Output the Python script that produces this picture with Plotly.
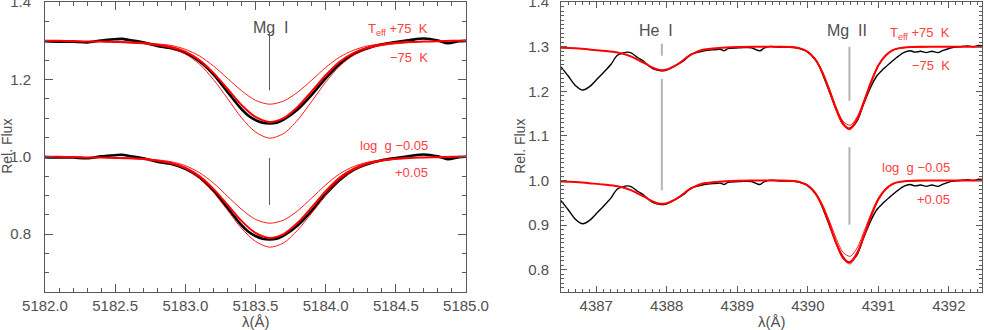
import plotly.graph_objects as go

# ---- left panel: Mg I 5183.6 ----
MGI_WAVE = [5182.0, 5182.1, 5182.2, 5182.3, 5182.4, 5182.5, 5182.6, 5182.7, 5182.8, 5182.9,
            5183.0, 5183.1, 5183.2, 5183.3, 5183.4, 5183.5, 5183.6, 5183.7, 5183.8, 5183.9,
            5184.0, 5184.1, 5184.2, 5184.3, 5184.4, 5184.5, 5184.6, 5184.7, 5184.8, 5184.9, 5185.0]
MGI_BEST = [1.000, 1.000, 0.999, 0.998, 0.998, 0.997, 0.996, 0.994, 0.990, 0.984,
            0.972, 0.950, 0.917, 0.876, 0.834, 0.803, 0.790, 0.800, 0.829, 0.869,
            0.911, 0.946, 0.969, 0.983, 0.990, 0.995, 0.997, 0.998, 0.999, 1.000, 1.000]

MGI_VAR_WAVE = [5182.4, 5182.6, 5182.7, 5182.8, 5182.9, 5183.0, 5183.1, 5183.2, 5183.3, 5183.4,
                5183.5, 5183.6, 5183.7, 5183.8, 5183.9, 5184.0, 5184.1, 5184.2, 5184.3, 5184.4, 5184.6]
MGI_TEFF_PLUS = [0.998, 0.997, 0.995, 0.992, 0.988, 0.978, 0.961, 0.935, 0.903, 0.871,
                 0.846, 0.836, 0.844, 0.867, 0.898, 0.931, 0.958, 0.976, 0.987, 0.992, 0.998]
MGI_TEFF_MINUS = [0.998, 0.995, 0.993, 0.988, 0.981, 0.966, 0.940, 0.900, 0.851, 0.801,
                  0.764, 0.748, 0.760, 0.795, 0.843, 0.893, 0.935, 0.963, 0.980, 0.988, 0.996]
MGI_LOGG_MINUS = [0.998, 0.997, 0.995, 0.992, 0.987, 0.977, 0.959, 0.932, 0.898, 0.864,
                  0.838, 0.828, 0.836, 0.860, 0.893, 0.927, 0.956, 0.975, 0.986, 0.992, 0.998]
MGI_LOGG_PLUS = [0.998, 0.996, 0.993, 0.989, 0.982, 0.969, 0.944, 0.908, 0.862, 0.815,
                 0.781, 0.766, 0.777, 0.810, 0.854, 0.901, 0.940, 0.965, 0.981, 0.989, 0.997]

MGI_OBS_WAVE = [5182.00, 5182.10, 5182.20, 5182.30, 5182.40, 5182.50, 5182.55, 5182.60, 5182.70,
                5182.80, 5182.90, 5183.00, 5183.10, 5183.20, 5183.30, 5183.40, 5183.45, 5183.50,
                5183.55, 5183.60, 5183.65, 5183.70, 5183.80, 5183.90, 5184.00, 5184.10, 5184.20,
                5184.30, 5184.40, 5184.50, 5184.60, 5184.70, 5184.80, 5184.87, 5184.95, 5185.00]
MGI_OBS = [0.999, 0.998, 0.998, 0.996, 1.001, 1.004, 1.005, 1.002, 0.996,
           0.987, 0.981, 0.969, 0.947, 0.913, 0.868, 0.823, 0.806, 0.795,
           0.788, 0.786, 0.788, 0.796, 0.822, 0.860, 0.903, 0.940, 0.966,
           0.981, 0.991, 0.997, 1.002, 1.006, 1.001, 0.994, 0.999, 1.000]

# ---- right panel: He I 4387.9 and Mg II 4390.6 ----
R_WAVE = [4386.5, 4386.7, 4386.9, 4387.1, 4387.3, 4387.5, 4387.6, 4387.7, 4387.8, 4387.9,
          4388.0, 4388.1, 4388.2, 4388.3, 4388.4, 4388.5, 4388.7, 4388.9, 4389.2, 4389.6,
          4389.8, 4389.9, 4390.0, 4390.1, 4390.2, 4390.3, 4390.4, 4390.5, 4390.6, 4390.7,
          4390.8, 4390.9, 4391.0, 4391.1, 4391.2, 4391.3, 4391.4, 4391.6, 4392.0, 4392.5]
R_BEST = [0.998, 0.997, 0.994, 0.991, 0.987, 0.978, 0.970, 0.962, 0.953, 0.948,
          0.949, 0.956, 0.966, 0.978, 0.987, 0.993, 0.997, 0.999, 1.000, 1.000,
          0.999, 0.996, 0.989, 0.973, 0.945, 0.905, 0.861, 0.827, 0.817, 0.838,
          0.878, 0.922, 0.958, 0.980, 0.992, 0.997, 0.999, 1.000, 1.000, 1.000]

R_VAR_WAVE = [4389.5, 4389.8, 4389.9, 4390.0, 4390.1, 4390.2, 4390.3, 4390.4, 4390.5, 4390.6,
              4390.7, 4390.8, 4390.9, 4391.0, 4391.1, 4391.2, 4391.3, 4391.7]
R_TEFF_PLUS = [1.000, 0.999, 0.996, 0.989, 0.974, 0.947, 0.908, 0.866, 0.833, 0.824,
               0.843, 0.882, 0.925, 0.959, 0.981, 0.992, 0.997, 1.000]
R_TEFF_MINUS = [1.000, 0.999, 0.996, 0.989, 0.972, 0.944, 0.903, 0.858, 0.824, 0.814,
                0.835, 0.876, 0.920, 0.957, 0.980, 0.992, 0.997, 1.000]
R_LOGG_MINUS = [1.000, 0.999, 0.996, 0.990, 0.975, 0.949, 0.912, 0.871, 0.839, 0.830,
                0.849, 0.887, 0.927, 0.961, 0.981, 0.993, 0.997, 1.000]
R_LOGG_PLUS = [1.000, 0.999, 0.996, 0.989, 0.972, 0.944, 0.903, 0.858, 0.824, 0.813,
               0.835, 0.876, 0.920, 0.957, 0.980, 0.992, 0.997, 1.000]

R_OBS_WAVE = [4386.50, 4386.60, 4386.70, 4386.81, 4386.90, 4387.02, 4387.10, 4387.21, 4387.30,
              4387.44, 4387.50, 4387.585, 4387.66, 4387.73, 4387.80, 4387.915, 4388.00, 4388.15,
              4388.25, 4388.34, 4388.45, 4388.53, 4388.65, 4388.77, 4388.81, 4388.87, 4389.05,
              4389.20, 4389.32, 4389.38, 4389.47, 4389.60, 4389.75, 4389.85, 4389.99, 4390.13,
              4390.27, 4390.41, 4390.50, 4390.57, 4390.63, 4390.70, 4390.79, 4390.89, 4390.98,
              4391.07, 4391.17, 4391.26, 4391.36, 4391.45, 4391.52, 4391.60, 4391.68, 4391.76,
              4391.84, 4391.92, 4392.04, 4392.15, 4392.27, 4392.35, 4392.42, 4392.50]
R_OBS = [0.955, 0.935, 0.914, 0.903, 0.910, 0.929, 0.942, 0.961, 0.981,
         0.988, 0.986, 0.976, 0.969, 0.959, 0.951, 0.946, 0.948, 0.960,
         0.970, 0.983, 0.988, 0.991, 0.993, 0.994, 0.991, 0.996, 0.998,
         0.998, 0.991, 0.997, 1.001, 0.999, 0.999, 0.997, 0.989, 0.966,
         0.914, 0.857, 0.829, 0.816, 0.821, 0.834, 0.871, 0.909, 0.935,
         0.950, 0.964, 0.976, 0.987, 0.991, 0.988, 0.990, 0.987, 0.990,
         0.987, 0.992, 0.998, 1.000, 1.002, 1.000, 1.003, 1.002]

OFFSET = 0.3  # Teff group is shifted up by this

AXIS_GRAY = "#5a5a5a"
TEXT_GRAY = "#505050"
RED = "#ff0000"
LABEL_RED = "#ff4040"
FONT = "Liberation Sans"

fig = go.Figure()


def add_line(x, y, xa, ya, color, width):
    fig.add_trace(go.Scatter(x=x, y=y, xaxis=xa, yaxis=ya, mode="lines",
                             line=dict(color=color, width=width, shape="spline", smoothing=0.8),
                             hoverinfo="skip"))


# left panel
add_line(MGI_OBS_WAVE, [v + OFFSET for v in MGI_OBS], "x", "y", "black", 2.6)
add_line(MGI_OBS_WAVE, MGI_OBS, "x", "y", "black", 2.6)
for var in (MGI_TEFF_PLUS, MGI_TEFF_MINUS):
    add_line(MGI_VAR_WAVE, [v + OFFSET for v in var], "x", "y", RED, 0.9)
for var in (MGI_LOGG_MINUS, MGI_LOGG_PLUS):
    add_line(MGI_VAR_WAVE, var, "x", "y", RED, 0.9)
add_line(MGI_WAVE, [v + OFFSET for v in MGI_BEST], "x", "y", RED, 2)
add_line(MGI_WAVE, MGI_BEST, "x", "y", RED, 2)

# right panel
add_line(R_OBS_WAVE, [v + OFFSET for v in R_OBS], "x2", "y2", "black", 1.4)
add_line(R_OBS_WAVE, R_OBS, "x2", "y2", "black", 1.4)
for var in (R_TEFF_PLUS, R_TEFF_MINUS):
    add_line(R_VAR_WAVE, [v + OFFSET for v in var], "x2", "y2", RED, 0.9)
for var in (R_LOGG_MINUS, R_LOGG_PLUS):
    add_line(R_VAR_WAVE, var, "x2", "y2", RED, 0.9)
add_line(R_WAVE, [v + OFFSET for v in R_BEST], "x2", "y2", RED, 2)
add_line(R_WAVE, R_BEST, "x2", "y2", RED, 2)

# line-identification markers
for x0, y0, y1 in [(5183.60, 1.172, 1.32), (5183.60, 0.875, 0.997)]:
    fig.add_shape(type="line", xref="x", yref="y", x0=x0, x1=x0, y0=y0, y1=y1,
                  line=dict(color=AXIS_GRAY, width=1))
for x0, y0, y1 in [(4387.93, 1.280, 1.307), (4387.93, 0.978, 1.228),
                   (4390.59, 1.179, 1.300), (4390.59, 0.901, 1.075)]:
    fig.add_shape(type="line", xref="x2", yref="y2", x0=x0, x1=x0, y0=y0, y1=y1,
                  line=dict(color="#b4b4b4", width=2))

annotations = [
    dict(x=5183.61, y=1.335, xref="x", yref="y", text="Mg\u00a0\u00a0I",
         font=dict(size=16, color=TEXT_GRAY)),
    dict(x=4387.85, y=1.337, xref="x2", yref="y2", text="He\u00a0\u00a0I",
         font=dict(size=16, color=TEXT_GRAY)),
    dict(x=4390.55, y=1.337, xref="x2", yref="y2", text="Mg\u00a0\u00a0II",
         font=dict(size=16, color=TEXT_GRAY)),
]
for xref, yref, xr in [("x", "y", 5184.74), ("x2", "y2", 4392.05)]:
    for y, txt in [(1.329, "T<sub>eff</sub> +75\u00a0\u00a0K"), (1.258, "\u221275\u00a0\u00a0K"),
                   (1.029, "log\u00a0\u00a0g\u00a0\u22120.05"), (0.958, "+0.05")]:
        annotations.append(dict(x=xr, y=y, xref=xref, yref=yref, text=txt, xanchor="right",
                                font=dict(size=13, color=LABEL_RED)))
# axis titles
for x in (7 / 984, 520 / 984):
    annotations.append(dict(x=x, y=0.555, xref="paper", yref="paper", text="Rel.\u00a0Flux",
                            textangle=-90, xanchor="center", yanchor="middle",
                            font=dict(size=14, color=TEXT_GRAY)))
for x in ((45 + 466) / 2 / 984, (561 + 982) / 2 / 984):
    annotations.append(dict(x=x, y=1 - 321 / 330, xref="paper", yref="paper", text="\u03bb(\u00c5)",
                            xanchor="center", yanchor="middle",
                            font=dict(size=15, color=TEXT_GRAY)))
for a in annotations:
    a.setdefault("showarrow", False)
    fig.add_annotation(**a)


def axis(domain, rng, dtick, minor_dtick, fmt, anchor, ticklen, standoff):
    return dict(domain=domain, range=rng, anchor=anchor, showgrid=False, zeroline=False,
                automargin=False, ticklabeloverflow="allow", ticklabelstandoff=standoff,
                showline=True, linecolor=AXIS_GRAY, linewidth=1, mirror="allticks",
                ticks="inside", ticklen=ticklen, tickwidth=1, tickcolor=AXIS_GRAY,
                dtick=dtick, tick0=0, tickformat=fmt,
                tickfont=dict(size=15, color=TEXT_GRAY, family=FONT),
                minor=dict(dtick=minor_dtick, ticks="inside", ticklen=ticklen / 2,
                           tickcolor=AXIS_GRAY, tickwidth=1, showgrid=False))


ydom = [1 - 292 / 330, 1 - 2 / 330]
fig.update_layout(
    width=984, height=330, margin=dict(l=0, r=0, t=0, b=0, autoexpand=False),
    paper_bgcolor="white", plot_bgcolor="white", showlegend=False,
    font=dict(family=FONT, color=TEXT_GRAY),
    xaxis=axis([45 / 984, 466 / 984], [5182.0, 5185.0], 0.5, 0.1, ".1f", "y", 8, 0),
    yaxis=axis(ydom, [0.65, 1.4005], 0.2, 0.05, ".1f", "x", 8, 10),
    xaxis2=axis([561 / 984, 982 / 984], [4386.5, 4392.47], 1, 0.1, "d", "y2", 6, 0),
    yaxis2=axis(ydom, [0.75, 1.4005], 0.1, 0.01, ".1f", "x2", 6, 8),
)

fig.write_html("out.html", config={"displayModeBar": False},
               post_script="document.body.style.margin='0px';")
